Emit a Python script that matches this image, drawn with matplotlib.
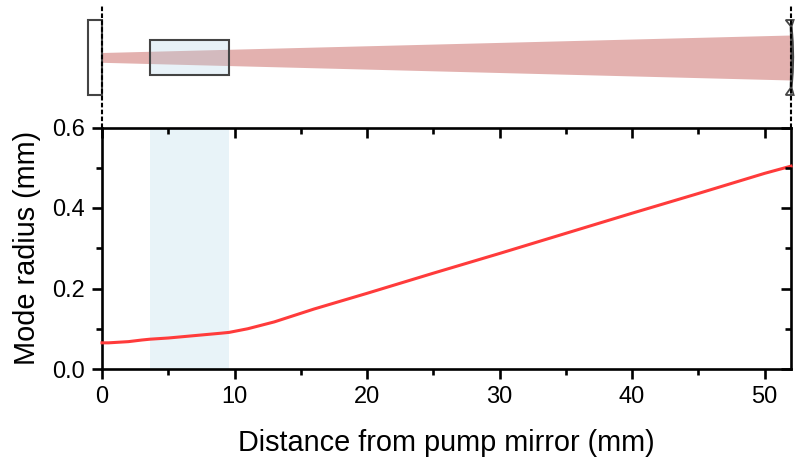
import matplotlib
matplotlib.use('Agg')
import matplotlib.pyplot as plt
from matplotlib.patches import Rectangle, Polygon

plt.rcParams['font.family'] = ['Liberation Sans', 'DejaVu Sans']

# mode radius
dist_mm = [0, 0.5, 1, 2, 3, 3.6, 5, 7, 9, 9.6, 11, 13, 16, 20, 25, 30, 35, 40, 45, 50, 52]
radius_mm = [0.065, 0.065, 0.066, 0.068, 0.072, 0.074, 0.077, 0.083, 0.089, 0.091, 0.100, 0.117,
             0.149, 0.188, 0.238, 0.287, 0.337, 0.387, 0.436, 0.486, 0.504]

crystal_mm = [3.65, 9.6]
x_limits = [0, 52]
y_limits = [0, 0.6]
x_ticks = [0, 10, 20, 30, 40, 50]
x_ticks_minor = [5, 15, 25, 35, 45]
y_ticks = [0.0, 0.2, 0.4, 0.6]
y_ticks_minor = [0.1, 0.3, 0.5]

# beam outline in the sketch panel, same x as the axis, y in sketch pixels from centre
beam_x = [0, 52]
beam_top = [4.5, 22]
beam_bottom = [-5.3, -23]

fig = plt.figure(figsize=(7.95, 4.63), dpi=100)
W, H = 795.0, 463.0

# sketch panel on top
left, right = 102.0, 791.0
top_ax = fig.add_axes([left / W, (H - 127.5) / H, (right - left) / W, 127.5 / H])
top_ax.set_xlim(x_limits)
top_ax.set_ylim(-70.5, 57)
top_ax.axis('off')

top_ax.fill_between(beam_x, beam_bottom, beam_top, color='#e3b1af', lw=0, zorder=2)
top_ax.add_patch(Rectangle((crystal_mm[0], -17.5), crystal_mm[1] - crystal_mm[0], 34.5,
                           fc='#add3e6', alpha=0.28, ec='none', zorder=3))
top_ax.add_patch(Rectangle((crystal_mm[0], -17.5), crystal_mm[1] - crystal_mm[0], 34.5,
                           fc='none', ec='#444444', lw=1.5, zorder=4))
# pump mirror
top_ax.add_patch(Rectangle((-1.05, -38), 1.05, 75, fc='white', ec='#444444', lw=1.5,
                           clip_on=False, zorder=4))
# output mirror, thin curved lens
top_ax.add_patch(Polygon([(51.6, 37), (52.2, 37), (52.05, 31), (52.14, 15), (52.17, 0), (52.14, -15),
                          (52.05, -31), (52.2, -38), (51.6, -38), (51.97, -31), (52.03, 0), (51.97, 31)],
                         closed=True, fc='none', ec='#444444', lw=1.3, clip_on=False, zorder=4))
for xpos in x_limits:
    top_ax.plot([xpos, xpos], [-70.5, 52], color='black', ls=(0, (2.2, 1.1)), lw=1.5,
                clip_on=False, zorder=5)

# main panel
ax = fig.add_axes([left / W, (H - 369) / H, (right - left) / W, (369 - 127.5) / H])
ax.axvspan(crystal_mm[0], crystal_mm[1], color='#e8f3f8', lw=0, zorder=1)
ax.plot(dist_mm, radius_mm, color='#ff3b3b', lw=2.2, zorder=3, clip_on=False)

ax.set_xlim(x_limits)
ax.set_ylim(y_limits)
ax.set_xticks(x_ticks)
ax.set_xticks(x_ticks_minor, minor=True)
ax.set_yticks(y_ticks)
ax.set_yticks(y_ticks_minor, minor=True)
ax.set_yticklabels(['0.0', '0.2', '0.4', '0.6'])

for s in ax.spines.values():
    s.set_linewidth(1.9)
ax.tick_params(which='major', direction='out', length=7, width=1.9, labelsize=17, pad=5.5)
ax.tick_params(which='minor', direction='out', length=4, width=1.9)
ax.tick_params(which='both', top=False, right=False)

# ticks along the top and right edges point inward
for xpos in x_ticks:
    ax.plot([xpos], [0.6], marker=3, ms=7, mew=1.9, color='black', clip_on=False, zorder=5)
for xpos in x_ticks_minor:
    ax.plot([xpos], [0.6], marker=3, ms=4, mew=1.9, color='black', clip_on=False, zorder=5)
for ypos in y_ticks:
    ax.plot([52], [ypos], marker=0, ms=7, mew=1.9, color='black', clip_on=False, zorder=5)
for ypos in y_ticks_minor:
    ax.plot([52], [ypos], marker=0, ms=4, mew=1.9, color='black', clip_on=False, zorder=5)

ax.set_xlabel('Distance from pump mirror (mm)', fontsize=20.8, labelpad=15)
ax.set_ylabel('Mode radius (mm)', fontsize=20.8, labelpad=8)

fig.savefig('out.png', dpi=100)
